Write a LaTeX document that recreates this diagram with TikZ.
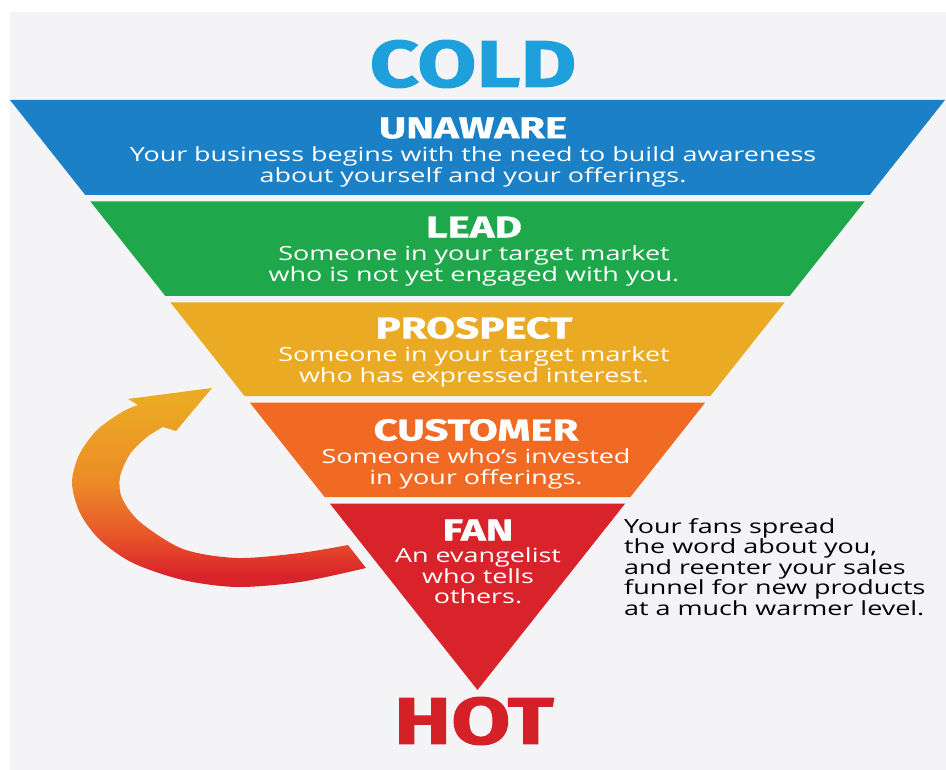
\documentclass[tikz,border=0pt]{standalone}
\usepackage{fontspec}
\newfontfamily\headfont[FakeStretch=1.3, FakeBold=1.5]{Fira Sans}
\newfontfamily\titlefont[FakeStretch=1.4, FakeBold=1]{Fira Sans}
\newfontfamily\bodyfont[FakeStretch=1.38]{Open Sans}
\usetikzlibrary{positioning}

\definecolor{panel}{HTML}{F4F4F7}
\definecolor{coldblue}{HTML}{1EA0DC}
\definecolor{unawareblue}{HTML}{1B80C6}
\definecolor{leadgreen}{HTML}{1EA84B}
\definecolor{prospectyellow}{HTML}{EBAA23}
\definecolor{customerorange}{HTML}{F06A24}
\definecolor{fanred}{HTML}{D9232A}
\definecolor{hotred}{HTML}{D42027}
\definecolor{arroworange}{HTML}{EC8A27}
\definecolor{arrowred}{HTML}{E8552A}

\pgfdeclareverticalshading{arrowfade}{100bp}{color(0bp)=(fanred); color(28bp)=(fanred); color(38bp)=(arrowred); color(51bp)=(arroworange); color(72bp)=(prospectyellow); color(100bp)=(prospectyellow)}

\begin{document}
\begin{tikzpicture}[x=1pt, y=-1pt, >=latex,
    title/.style={font=\titlefont\bfseries\fontsize{30}{30}\selectfont, text=white, inner sep=0pt},
    desc/.style={font=\bodyfont\fontsize{19.5}{21}\selectfont, text=white, align=center, inner sep=0pt},
    big/.style={font=\headfont\bfseries\fontsize{66}{66}\selectfont, inner sep=0pt}]

\useasboundingbox (0,0) rectangle (946,770);
\fill[panel] (10,12) rectangle (946,770);

\foreach \t/\b/\c in {100/195/unawareblue, 201.5/296/leadgreen, 302.5/396/prospectyellow, 402.5/497/customerorange}
    \fill[\c] ({10+0.7925*(\t-100)},\t) -- ({945-0.7925*(\t-100)},\t) -- ({945-0.7925*(\b-100)},\b) -- ({10+0.7925*(\b-100)},\b) -- cycle;
\fill[fanred] ({10+0.7925*403.5},503.5) -- ({945-0.7925*403.5},503.5) -- (477.5,690) -- cycle;

\node[big, text=coldblue] (cold) at (473,64) {COLD};
\node[big, text=hotred] (hot) at (474,721) {HOT};

\node[title] (unaware) at (473,128) {UNAWARE};
\node[desc, below=7.5pt of unaware] (unaware-text) {Your business begins with the need to build awareness\\about yourself and your offerings.};

\node[title] (lead) at (474,227) {LEAD};
\node[desc, below=7.5pt of lead] (lead-text) {Someone in your target market\\who is not yet engaged with you.};

\node[title] (prospect) at (474,328) {PROSPECT};
\node[desc, below=7.5pt of prospect] (prospect-text) {Someone in your target market\\who has expressed interest.};

\node[title] (customer) at (476,430) {CUSTOMER};
\node[desc, below=7.5pt of customer] (customer-text) {Someone who’s invested\\in your offerings.};

\node[title] (fan) at (478,530) {FAN};
\node[desc, below=7pt of fan, font=\bodyfont\fontsize{19.5}{20.5}\selectfont] (fan-text) {An evangelist\\who tells\\others.};

\node[desc, text=black, align=left, anchor=north west, font=\bodyfont\fontsize{19.5}{20.5}\selectfont] (reenter) at (624,518) {Your fans spread\\the word about you,\\and reenter your sales\\funnel for new products\\at a much warmer level.};

\shade[shading=arrowfade]
    plot[smooth] coordinates {(366,568) (300,582) (237,587) (183,580) (133,563) (100,540) (80,513) (72,483) (79,455) (97,430) (122,412) (138,405)}
    -- (128,399) -- (212,388) -- (176,431) -- (163,427)
    -- plot[smooth] coordinates {(163,427) (147,437) (130,454) (120,477) (122,498) (140,522) (183,549) (237,558) (300,553) (348,545)}
    -- cycle;

\end{tikzpicture}
\end{document}
